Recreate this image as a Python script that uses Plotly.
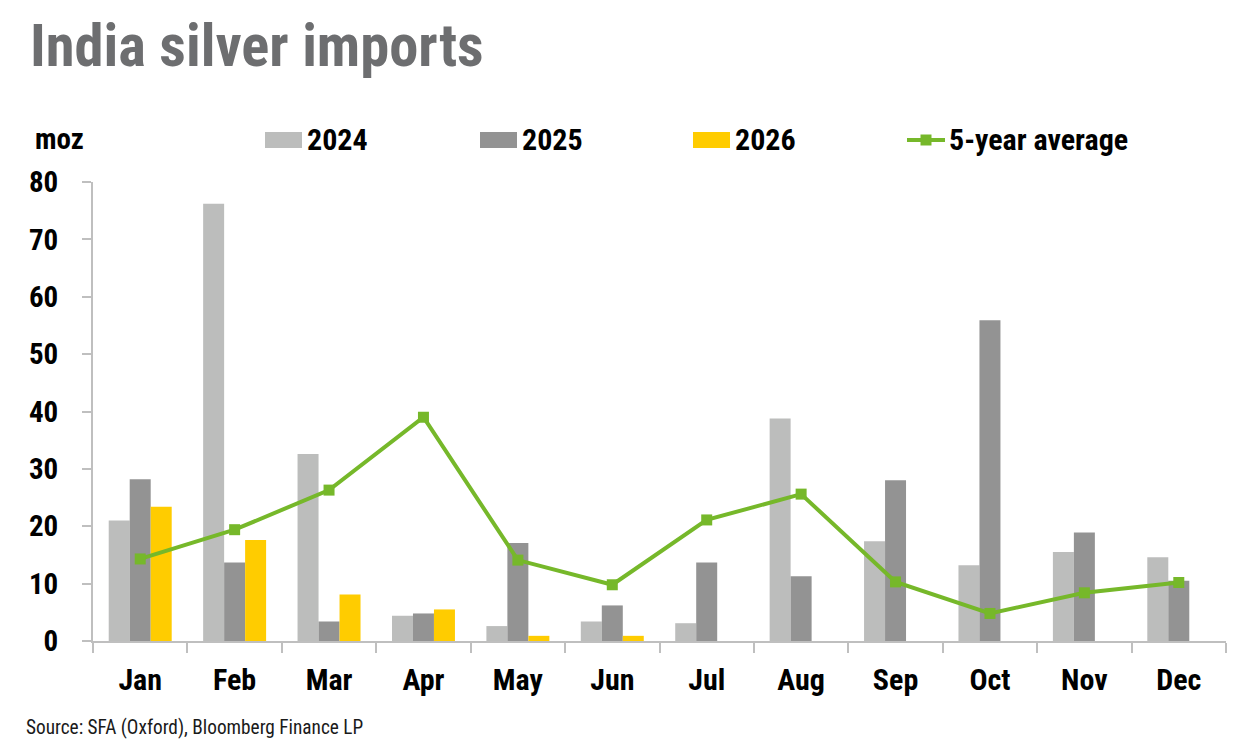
import plotly.graph_objects as go

months = ["Jan", "Feb", "Mar", "Apr", "May", "Jun", "Jul", "Aug", "Sep", "Oct", "Nov", "Dec"]
imports_2024 = [21.0, 76.2, 32.6, 4.4, 2.6, 3.4, 3.1, 38.8, 17.4, 13.2, 15.5, 14.6]
imports_2025 = [28.2, 13.7, 3.4, 4.8, 17.1, 6.2, 13.7, 11.3, 28.0, 55.9, 18.9, 10.5]
imports_2026 = [23.4, 17.6, 8.1, 5.5, 0.9, 0.9, None, None, None, None, None, None]
five_year_avg = [14.3, 19.4, 26.3, 39.0, 14.1, 9.8, 21.1, 25.6, 10.3, 4.8, 8.4, 10.2]
y_ticks = [0, 10, 20, 30, 40, 50, 60, 70, 80]

FONT = "Roboto Condensed, Liberation Sans Narrow, Roboto, sans-serif"
C24, C25, C26, CAVG = "#bcbdbc", "#939393", "#ffcc00", "#76b82a"
AXIS = "#bfbfbf"

# plot area in pixels
L, R, T, B = 93, 1226, 182, 641
W, H = 1243, 751


def px(x):
    return (x - L) / (R - L)


def py(y):
    return (B - y) / (B - T)


fig = go.Figure()
fig.add_trace(go.Bar(x=months, y=imports_2024, name="2024", marker_color=C24,
                     marker_line_width=0, showlegend=False))
fig.add_trace(go.Bar(x=months, y=imports_2025, name="2025", marker_color=C25,
                     marker_line_width=0, showlegend=False))
fig.add_trace(go.Bar(x=months, y=imports_2026, name="2026", marker_color=C26,
                     marker_line_width=0, showlegend=False))
fig.add_trace(go.Scatter(x=months, y=five_year_avg, name="5-year average", mode="lines+markers",
                         line=dict(color=CAVG, width=4),
                         marker=dict(symbol="square", size=11, color=CAVG),
                         showlegend=False))

annotations = []
shapes = []

# title
annotations.append(dict(text="India silver imports", xref="paper", yref="paper",
                        x=px(28), y=py(46), xanchor="left", yanchor="middle", showarrow=False,
                        font=dict(family=FONT, size=58.5, color="#6d6e70", weight="bold")))
# unit label
annotations.append(dict(text="moz", xref="paper", yref="paper",
                        x=px(33), y=py(139), xanchor="left", yanchor="middle", showarrow=False,
                        font=dict(family=FONT, size=29, color="#000000", weight="bold")))
# source
annotations.append(dict(text="Source: SFA (Oxford), Bloomberg Finance LP", xref="paper", yref="paper",
                        x=px(24), y=py(727), xanchor="left", yanchor="middle", showarrow=False,
                        font=dict(family=FONT, size=19.3, color="#1a1a1a")))

# custom legend
legend_items = [("2024", C24, "bar", 265), ("2025", C25, "bar", 480),
                ("2026", C26, "bar", 693), ("5-year average", CAVG, "line", 907)]
for name, col, kind, x0 in legend_items:
    if kind == "bar":
        shapes.append(dict(type="rect", xref="paper", yref="paper",
                           x0=px(x0), x1=px(x0 + 37), y0=py(148), y1=py(132),
                           fillcolor=col, line_width=0))
    else:
        shapes.append(dict(type="line", xref="paper", yref="paper",
                           x0=px(x0), x1=px(x0 + 38), y0=py(140), y1=py(140),
                           line=dict(color=col, width=4)))
        shapes.append(dict(type="rect", xref="paper", yref="paper",
                           x0=px(x0 + 13.5), x1=px(x0 + 24.5), y0=py(145.5), y1=py(134.5),
                           fillcolor=col, line_width=0))
    annotations.append(dict(text=name, xref="paper", yref="paper",
                            x=px(x0 + 40), y=py(139), xanchor="left", yanchor="middle",
                            showarrow=False,
                            font=dict(family=FONT, size=30, color="#000000", weight="bold")))

fig.update_layout(
    width=W, height=H,
    margin=dict(l=L, r=W - R, t=T, b=H - B, pad=0),
    paper_bgcolor="white", plot_bgcolor="white",
    barmode="group", bargap=0.333, bargroupgap=0,
    showlegend=False,
    font=dict(family=FONT, color="#000000"),
    annotations=annotations, shapes=shapes,
)
fig.update_xaxes(
    range=[-0.5, len(months) - 0.5],
    showline=True, linecolor=AXIS, linewidth=2,
    ticks="outside", tickson="boundaries", ticklen=10, tickcolor=AXIS, tickwidth=2,
    tickfont=dict(family=FONT, size=30, color="#000000", weight="bold"),
    ticklabelstandoff=11, automargin=False,
    showgrid=False, zeroline=False,
)
fig.update_yaxes(
    range=[0, 80], tickvals=y_ticks,
    showline=True, linecolor=AXIS, linewidth=2,
    ticks="outside", ticklen=9, tickcolor=AXIS, tickwidth=2,
    tickfont=dict(family=FONT, size=29, color="#000000", weight="bold"),
    ticklabelstandoff=18, automargin=False,
    showgrid=False, zeroline=False,
)

fig.write_html("out.html")
